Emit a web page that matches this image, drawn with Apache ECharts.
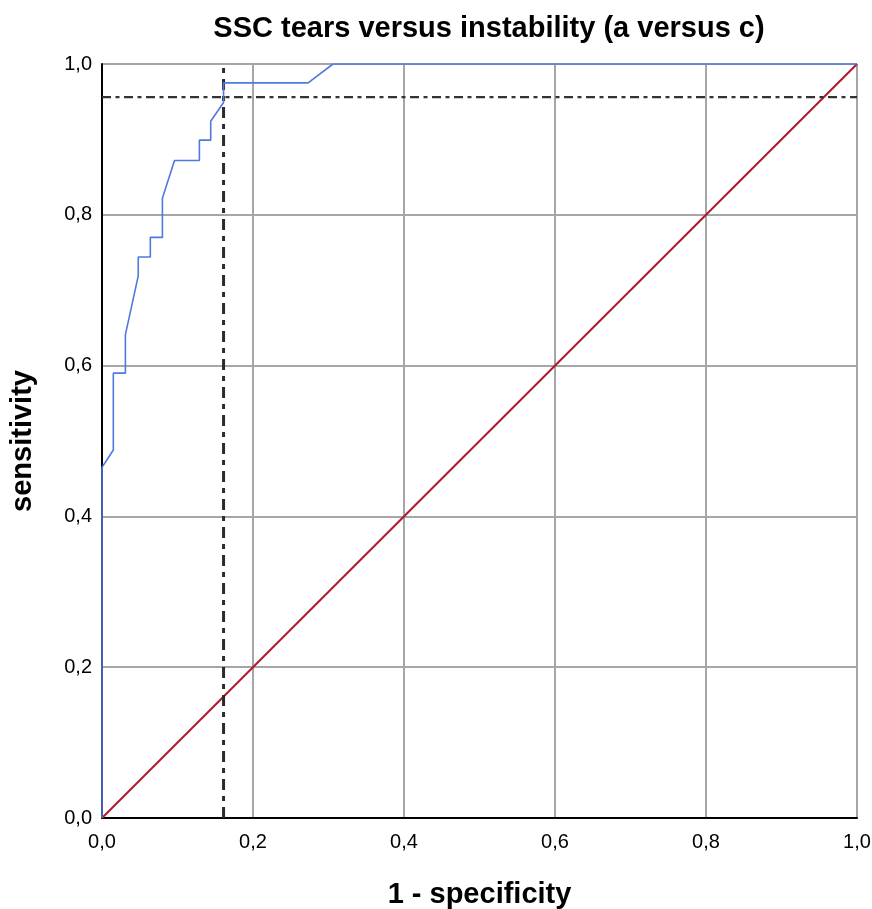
<!DOCTYPE html>
<html>
<head>
<meta charset="utf-8">
<script src="https://cdn.jsdelivr.net/npm/echarts@6/dist/echarts.min.js"></script>
<style>html,body{margin:0;padding:0;background:#fff}#c{width:872px;height:909px}</style>
</head>
<body>
<div id="c"></div>
<script>
// ROC curve (1 - specificity, sensitivity)
var rocX = [0, 0, 0.015, 0.015, 0.031, 0.031, 0.048, 0.048, 0.064, 0.064, 0.080, 0.080, 0.096, 0.129, 0.129, 0.144, 0.144, 0.161, 0.161, 0.273, 0.306, 1.0];
var rocY = [0, 0.465, 0.488, 0.590, 0.590, 0.641, 0.719, 0.744, 0.744, 0.770, 0.770, 0.822, 0.872, 0.872, 0.899, 0.899, 0.924, 0.949, 0.975, 0.975, 1.0, 1.0];
// reference (chance) line
var diagX = [0, 1];
var diagY = [0, 1];
// cut-off reference lines
var cutX = [0.161];
var cutY = [0.956];
var tickValues = [0, 0.2, 0.4, 0.6, 0.8, 1.0];

var chart = echarts.init(document.getElementById('c'));
function fmt(v){ return v.toFixed(1).replace('.', ','); }
function pairs(xs, ys){ return xs.map(function(x,i){ return [x, ys[i]]; }); }

var FONT = 'Liberation Sans';
chart.setOption({
  animation: false,
  backgroundColor: '#fff',
  title: {
    text: 'SSC tears versus instability (a versus c)',
    left: 484, top: 9, textAlign: 'center',
    textStyle: {fontFamily: FONT, fontWeight: 'bold', fontSize: 29, color: '#000'}
  },
  grid: {left: 102, top: 64, width: 755, height: 754, containLabel: false, outerBoundsMode: 'none'},
  xAxis: {
    type: 'value', min: 0, max: 1, interval: 0.2,
    name: '1 - specificity', nameLocation: 'middle', nameGap: 62,
    nameTextStyle: {fontFamily: FONT, fontWeight: 'bold', fontSize: 29, color: '#000'},
    axisLine: {show: true, onZero: false, lineStyle: {color: '#000', width: 2}},
    axisTick: {show: false},
    axisLabel: {formatter: fmt, fontFamily: FONT, fontSize: 20, color: '#000', margin: 14},
    splitLine: {show: true, lineStyle: {color: '#a6a6a6', width: 2}}
  },
  yAxis: {
    type: 'value', min: 0, max: 1, interval: 0.2,
    name: 'sensitivity', nameLocation: 'middle', nameGap: 65,
    nameTextStyle: {fontFamily: FONT, fontWeight: 'bold', fontSize: 29, color: '#000'},
    axisLine: {show: true, onZero: false, lineStyle: {color: '#000', width: 2}},
    axisTick: {show: false},
    axisLabel: {formatter: fmt, fontFamily: FONT, fontSize: 20, color: '#000', margin: 10, padding: [6, 0, 0, 0]},
    splitLine: {show: true, lineStyle: {color: '#a6a6a6', width: 2}}
  },
  series: [
    {
      type: 'line', data: pairs(diagX, diagY), symbol: 'none', z: 3,
      lineStyle: {color: '#b2182b', width: 2}
    },
    {
      type: 'line', data: [[cutX[0], 0], [cutX[0], 1]], symbol: 'none', z: 4,
      lineStyle: {color: '#2b2b2b', width: 3, type: [11, 6, 5, 6]}
    },
    {
      type: 'line', data: [[0, cutY[0]], [1, cutY[0]]], symbol: 'none', z: 4,
      lineStyle: {color: '#333', width: 2.2, type: [9, 4.5, 4, 4.5]}
    },
    {
      type: 'line', data: pairs(rocX, rocY), symbol: 'none', z: 5,
      lineStyle: {color: '#4f78e0', width: 1.6}
    }
  ]
});
</script>
</body>
</html>
